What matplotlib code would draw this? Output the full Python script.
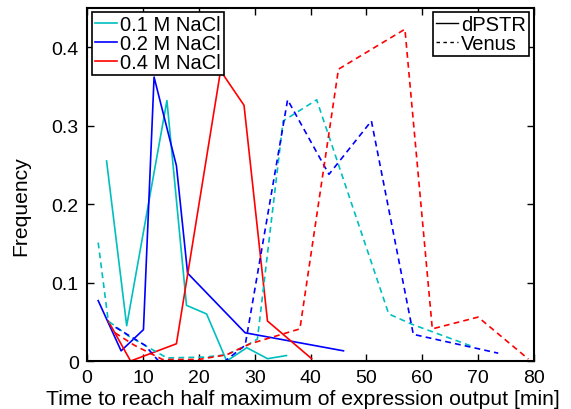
import matplotlib
matplotlib.use("Agg")
import matplotlib.pyplot as plt
from matplotlib.lines import Line2D

plt.rcParams['font.family'] = ['Liberation Sans', 'DejaVu Sans']

# dPSTR (solid) histograms
x_d01 = [3.5, 7.1, 14.3, 17.8, 21.4, 25.0, 28.6, 32.3, 35.7]
y_d01 = [0.255, 0.045, 0.332, 0.071, 0.060, 0.0, 0.017, 0.003, 0.007]
x_d02 = [2.0, 6.1, 10.1, 12.0, 16.0, 18.0, 28.3, 45.9]
y_d02 = [0.077, 0.013, 0.040, 0.362, 0.249, 0.112, 0.036, 0.013]
x_d04 = [3.8, 7.8, 16.0, 23.9, 28.1, 32.3, 40.2]
y_d04 = [0.051, 0.0, 0.022, 0.370, 0.326, 0.051, 0.003]

# Venus (dashed) histograms
x_v01 = [2.0, 3.8, 7.4, 14.3, 21.0, 25.0, 28.6, 30.5, 35.1, 41.1, 54.0, 58.1, 68.8]
y_v01 = [0.151, 0.051, 0.032, 0.004, 0.005, 0.008, 0.020, 0.028, 0.306, 0.333, 0.060, 0.047, 0.019]
x_v02 = [5.1, 10.4, 12.8, 20.2, 24.7, 28.3, 35.9, 43.3, 50.9, 58.4, 73.6]
y_v02 = [0.043, 0.020, 0.0, 0.0, 0.0, 0.020, 0.333, 0.238, 0.306, 0.034, 0.010]
x_v04 = [5.0, 8.5, 13.5, 20.0, 25.0, 29.2, 38.1, 45.0, 56.9, 61.8, 70.0, 79.0]
y_v04 = [0.036, 0.020, 0.002, 0.002, 0.008, 0.022, 0.041, 0.372, 0.423, 0.041, 0.056, 0.0025]

conc_labels = ['0.1 M NaCl', '0.2 M NaCl', '0.4 M NaCl']
type_labels = ['dPSTR', 'Venus']
colors = ['#00bfbf', '#0000ff', '#ff0000']

fig = plt.figure(figsize=(5.71, 4.10), dpi=100)
ax = fig.add_axes([0.1524, 0.117, 0.7828, 0.861])

lw = 1.2
dash = (0, (3.5, 2.5))
for (xs, ys), c in zip([(x_d01, y_d01), (x_d02, y_d02), (x_d04, y_d04)], colors):
    ax.plot(xs, ys, color=c, lw=lw, ls='-')
for (xs, ys), c in zip([(x_v01, y_v01), (x_v02, y_v02), (x_v04, y_v04)], colors):
    ax.plot(xs, ys, color=c, lw=lw, ls=dash)

ax.set_xlim(0, 80)
ax.set_ylim(0, 0.45)
ax.set_xticks(range(0, 81, 10))
ax.set_yticks([0, 0.1, 0.2, 0.3, 0.4])
ax.set_yticklabels(['0', '0.1', '0.2', '0.3', '0.4'])
ax.tick_params(direction='in', top=True, right=True, length=5, width=1, labelsize=14, pad=6)
for s in ax.spines.values():
    s.set_linewidth(1.5)

ax.set_xlabel('Time to reach half maximum of expression output [min]', fontsize=15.2)
ax.xaxis.set_label_coords(0.483, -0.08)
ax.set_ylabel('Frequency', fontsize=15.2)
ax.yaxis.set_label_coords(-0.128, 0.442)

h1 = [Line2D([], [], color=c, lw=lw) for c in colors]
leg1 = ax.legend(h1, conc_labels, loc='upper left', bbox_to_anchor=(0.011, 0.989),
                 fontsize=14.5, handlelength=1.1, handletextpad=0.15, labelspacing=0.0,
                 borderpad=0.15, borderaxespad=0, fancybox=False, framealpha=1,
                 edgecolor='black')
leg1.get_frame().set_linewidth(1.2)
ax.add_artist(leg1)

h2 = [Line2D([], [], color='black', lw=1.0, ls='-'),
      Line2D([], [], color='black', lw=1.0, ls=(0, (2.5, 2.5)))]
leg2 = ax.legend(h2, type_labels, loc='upper right', bbox_to_anchor=(0.989, 0.989),
                 fontsize=14.5, handlelength=1.1, handletextpad=0.15, labelspacing=0.0,
                 borderpad=0.15, borderaxespad=0, fancybox=False, framealpha=1,
                 edgecolor='black')
leg2.get_frame().set_linewidth(1.2)

fig.savefig('out.png', dpi=100)
